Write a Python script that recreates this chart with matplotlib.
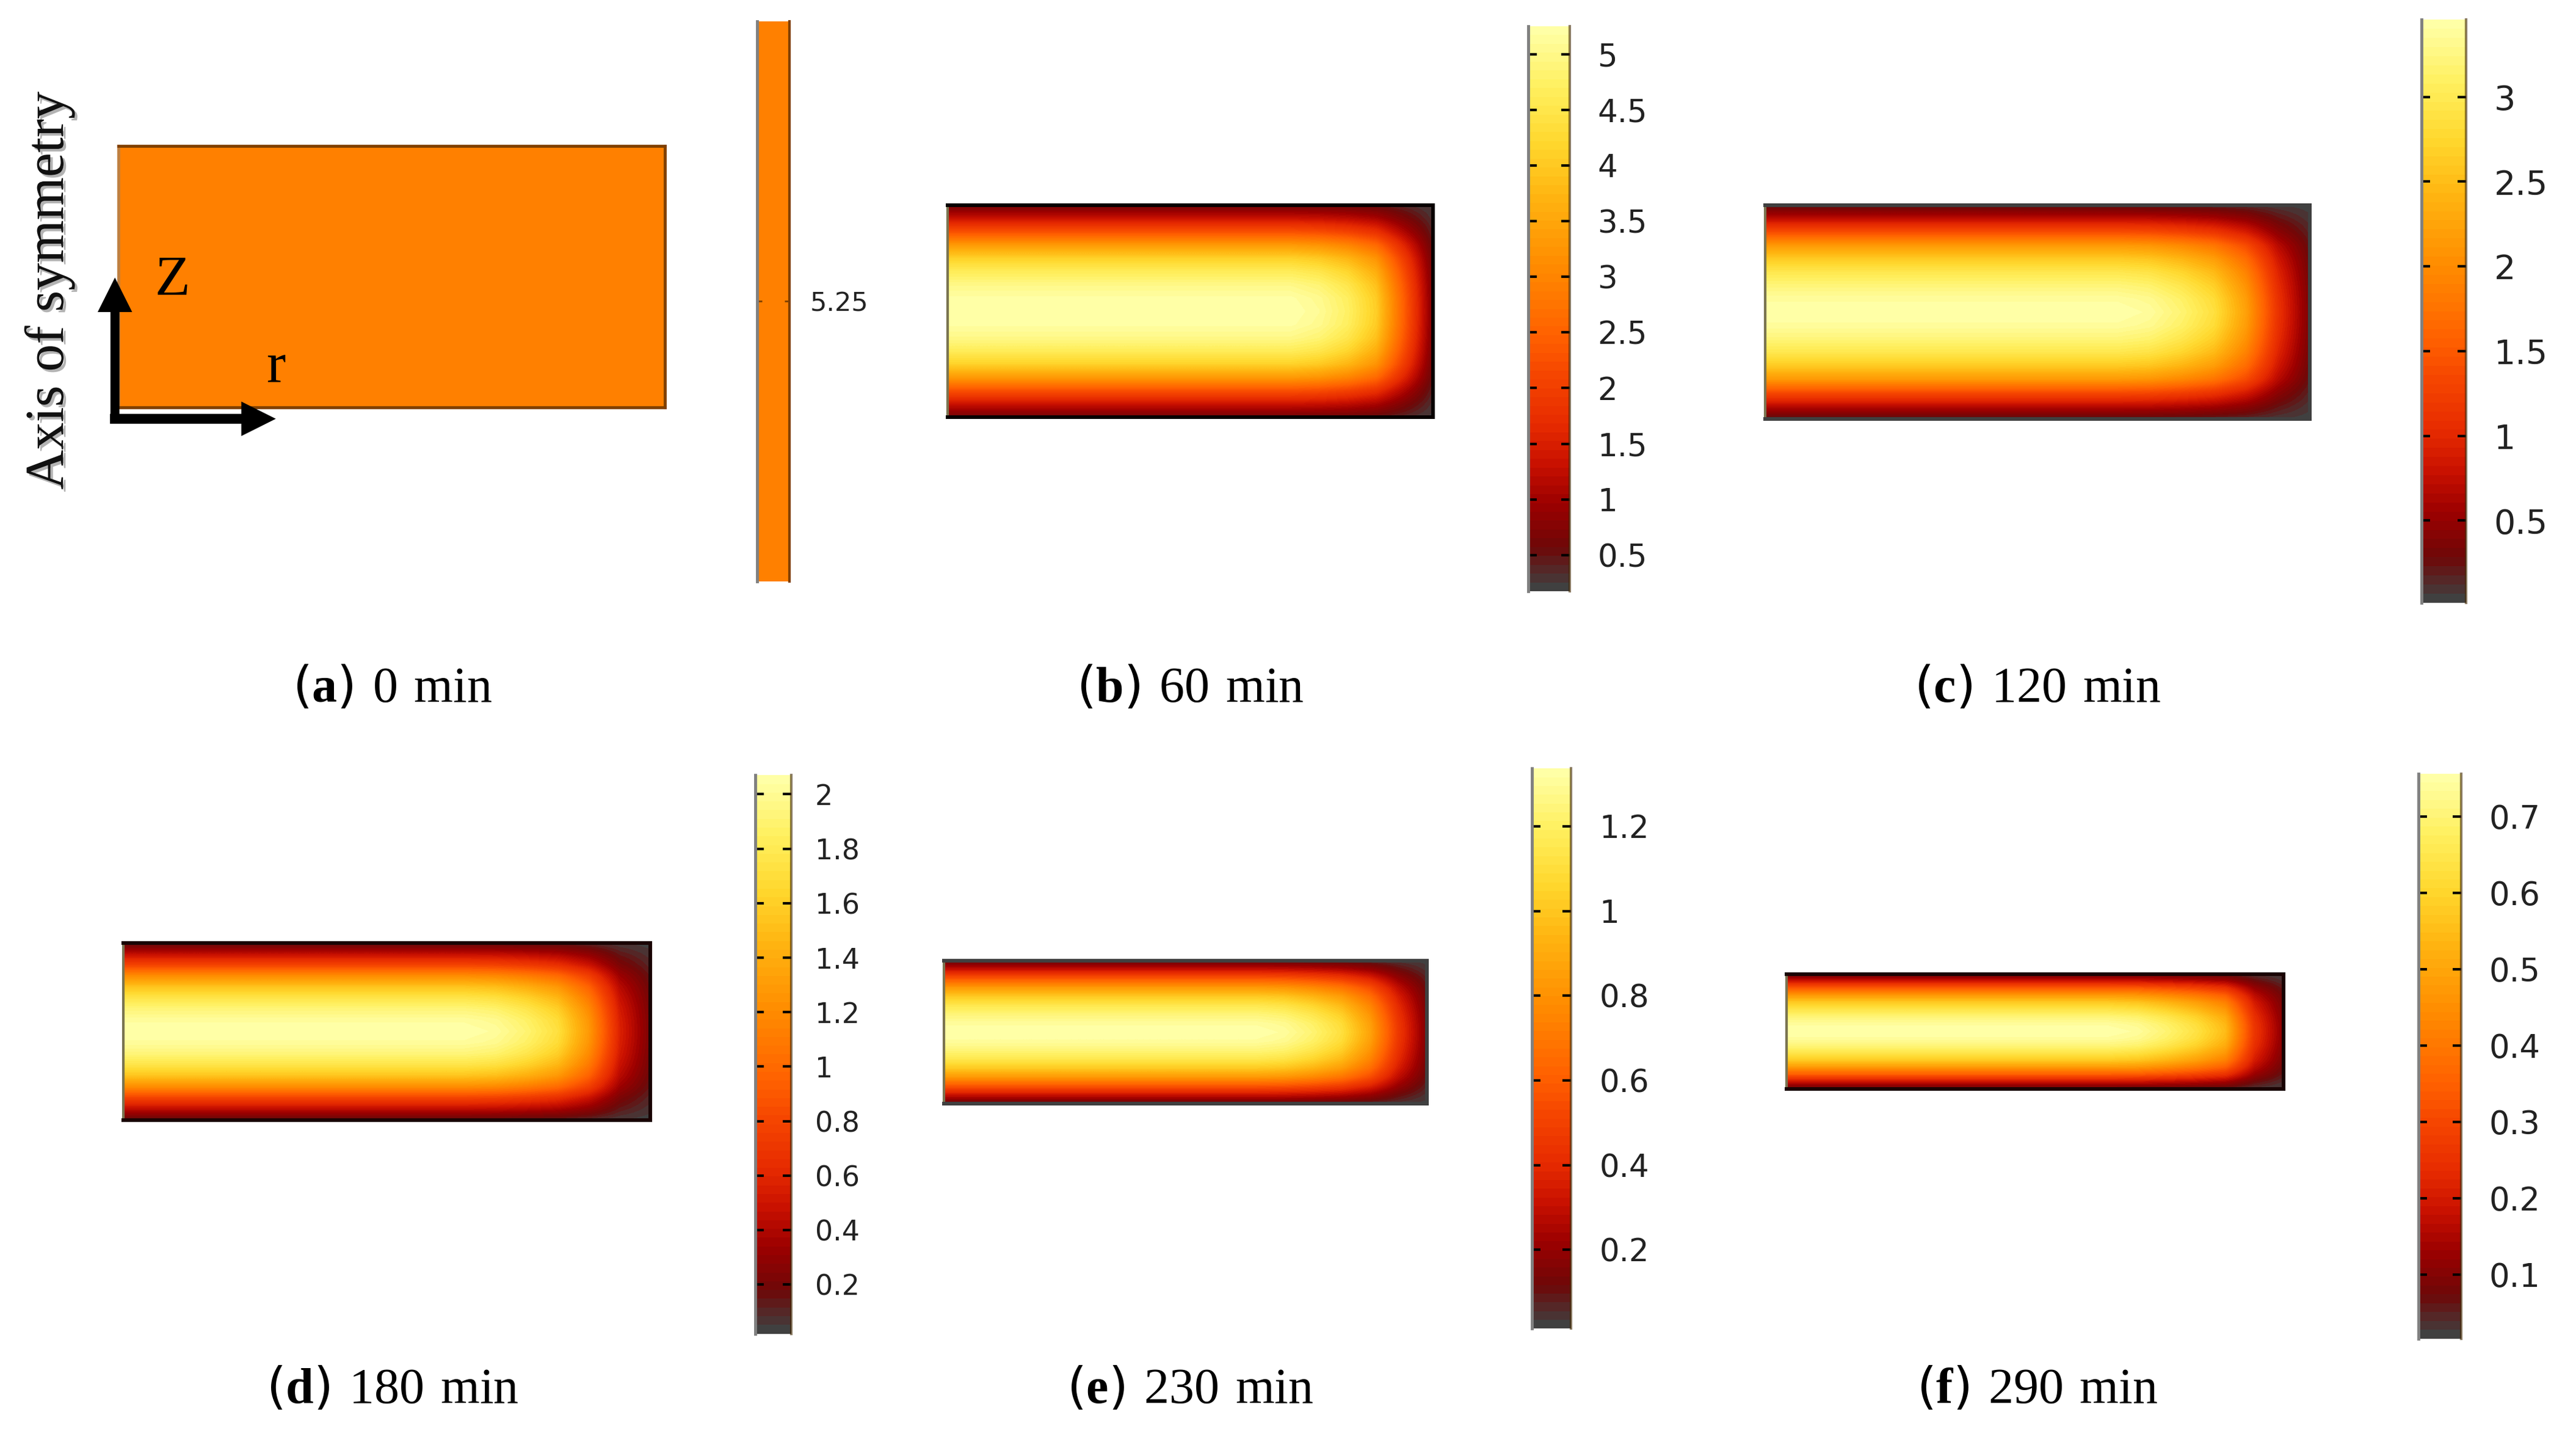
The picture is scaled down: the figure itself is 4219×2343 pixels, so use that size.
# Imports
from matplotlib import pyplot as plt
from matplotlib.cm import ScalarMappable
from matplotlib.colors import LinearSegmentedColormap, Normalize
from matplotlib.patches import FancyArrow
import matplotlib.patheffects as pe
import numpy as np

W, H = 4219, 2343
# size of the reference view the layout numbers were read from
REF_W, REF_H = 1569, 871.3

plt.rcParams['font.family'] = 'DejaVu Sans'
plt.rcParams['mathtext.fontset'] = 'custom'
plt.rcParams['mathtext.rm'] = 'Liberation Serif'
plt.rcParams['mathtext.bf'] = 'Liberation Serif:bold'
SERIF = 'Liberation Serif'

# Values
captions = ['a', 'b', 'c', 'd', 'e', 'f']
times = ['0 min', '60 min', '120 min', '180 min', '230 min', '290 min']
range_a = [5.2, 5.3]
ticks_a = [5.25]
ranges = {
    'b': (0.175, 5.25),
    'c': (0.015, 3.456),
    'd': (0.02, 2.07),
    'e': (0.014, 1.336),
    'f': (0.016, 0.756),
}
ticks_b = [0.5, 1, 1.5, 2, 2.5, 3, 3.5, 4, 4.5, 5]
ticks_c = [0.5, 1, 1.5, 2, 2.5, 3]
ticks_d = [0.2, 0.4, 0.6, 0.8, 1, 1.2, 1.4, 1.6, 1.8, 2]
ticks_e = [0.2, 0.4, 0.6, 0.8, 1, 1.2]
ticks_f = [0.1, 0.2, 0.3, 0.4, 0.5, 0.6, 0.7]

# Relative concentration across the height (bottom to top), read at even steps
z_b = [0.08, 0.23, 0.41, 0.62, 0.78, 0.88, 0.95, 0.99, 1.00, 0.99, 0.95, 0.88, 0.78, 0.62, 0.41, 0.23, 0.08]
z_c = [0.05, 0.21, 0.40, 0.62, 0.76, 0.86, 0.93, 0.98, 1.00, 0.98, 0.93, 0.86, 0.76, 0.62, 0.40, 0.21, 0.05]
z_d = [0.05, 0.21, 0.37, 0.58, 0.74, 0.85, 0.93, 0.98, 1.00, 0.98, 0.93, 0.85, 0.74, 0.58, 0.37, 0.21, 0.05]
z_e = [0.06, 0.23, 0.43, 0.62, 0.76, 0.86, 0.93, 0.98, 1.00, 0.98, 0.93, 0.86, 0.76, 0.62, 0.43, 0.23, 0.06]
z_f = [0.06, 0.23, 0.44, 0.62, 0.76, 0.85, 0.93, 0.98, 1.00, 0.98, 0.93, 0.85, 0.76, 0.62, 0.44, 0.23, 0.06]

# Relative concentration along the radius (axis to outer wall), read at even steps
r_b = [1.00, 1.00, 1.00, 1.00, 1.00, 1.00, 1.00, 1.00, 1.00, 1.00, 1.00, 1.00, 1.00, 0.97, 0.90, 0.77, 0.44, 0.10]
r_c = [1.00, 1.00, 1.00, 1.00, 1.00, 1.00, 1.00, 1.00, 1.00, 1.00, 1.00, 1.00, 0.98, 0.92, 0.83, 0.64, 0.32, 0.10]
r_d = [1.00, 1.00, 1.00, 1.00, 1.00, 1.00, 1.00, 1.00, 1.00, 1.00, 1.00, 1.00, 0.98, 0.92, 0.83, 0.62, 0.27, 0.10]
r_e = [1.00, 1.00, 1.00, 1.00, 1.00, 1.00, 1.00, 1.00, 1.00, 1.00, 1.00, 1.00, 0.98, 0.92, 0.83, 0.65, 0.34, 0.11]
r_f = [1.00, 1.00, 1.00, 1.00, 1.00, 1.00, 1.00, 1.00, 1.00, 1.00, 1.00, 1.00, 0.98, 0.92, 0.84, 0.72, 0.33, 0.12]

# Layout in reference pixels: left, right, top, bottom
map_boxes = {
    'a': (72, 405, 89, 248),
    'b': (577, 873, 125, 254),
    'c': (1075, 1407, 125, 255),
    'd': (75, 396, 574, 682),
    'e': (575, 869, 585, 672),
    'f': (1088, 1391, 593, 663),
}
bar_boxes = {
    'a': (461, 481, 13, 354),
    'b': (931, 956, 16, 360),
    'c': (1475, 1502, 12, 367),
    'd': (460, 482, 472, 812),
    'e': (933, 957, 468, 809),
    'f': (1473, 1499, 471, 815),
}
label_sizes = {'a': 31, 'b': 37, 'c': 40, 'd': 33, 'e': 37, 'f': 38}
label_pads = {'a': 24, 'b': 33, 'c': 33, 'd': 28, 'e': 33, 'f': 33}
caption_x = {'a': 239, 'b': 725, 'c': 1241, 'd': 239, 'e': 725, 'f': 1241}
caption_y = {'a': 419, 'b': 419, 'c': 419, 'd': 846, 'e': 846, 'f': 846}
spine_col = {'b': '#080000', 'c': '#404040', 'd': '#1a0404', 'e': '#404040', 'f': '#1a0404'}

heat = LinearSegmentedColormap.from_list('heat', [
    (0.0, '#404040'), (0.07, '#6e0808'), (0.15, '#9c0000'), (0.22, '#c81000'),
    (0.29, '#e62a00'), (0.38, '#f54500'), (0.45, '#ff6000'), (0.58, '#ff8c00'),
    (0.70, '#ffb410'), (0.80, '#ffd82e'), (0.90, '#fff060'), (1.0, '#ffffa6')], N=64)


def add_axes_px(box):
    """ Add axes from a box given in reference pixels """
    left, right, top, bottom = box
    return fig.add_axes([left / REF_W, 1 - bottom / REF_H, (right - left) / REF_W, (bottom - top) / REF_H])


def draw_bar(key, cmap, norm, ticks):
    """ Colorbar with inward ticks on both sides """
    cax = add_axes_px(bar_boxes[key])
    cb = fig.colorbar(ScalarMappable(norm=norm, cmap=cmap), cax=cax)
    cb.set_ticks(ticks, labels=[format(t, 'g') for t in ticks])
    cb.ax.minorticks_off()
    cax.tick_params(axis='y', which='major', direction='in', left=True, right=True,
                    length=10, width=3, color='black', labelsize=label_sizes[key],
                    labelcolor='#222222', pad=label_pads[key])
    cb.outline.set_visible(False)
    for side in ['left', 'right']:
        cax.spines[side].set_visible(True)
    cax.spines['left'].set_color('#808080')
    cax.spines['left'].set_linewidth(3.5)
    cax.spines['right'].set_color((0.25, 0.15, 0.0, 0.6))
    cax.spines['right'].set_linewidth(3)
    return cax


fig = plt.figure(figsize=(W / 100, H / 100), dpi=100, facecolor='white')

# Panel (a) is a uniform field
ax = add_axes_px(map_boxes['a'])
ax.set_facecolor('#ff8000')
ax.set_xticks([])
ax.set_yticks([])
for side, spine in ax.spines.items():
    spine.set_color('#804000' if side != 'left' else '#c08040')
    spine.set_linewidth(3.5)
flat = LinearSegmentedColormap.from_list('flat', ['#ff8000', '#ff8000'])
cax_a = draw_bar('a', flat, Normalize(range_a[0], range_a[1]), ticks_a)
cax_a.tick_params(axis='y', length=6, width=2, color='#804000')
cax_a.spines['right'].set_color('#804000')

profiles = {'b': (z_b, r_b, ticks_b), 'c': (z_c, r_c, ticks_c), 'd': (z_d, r_d, ticks_d),
            'e': (z_e, r_e, ticks_e), 'f': (z_f, r_f, ticks_f)}

for key, (z_vals, r_vals, ticks) in profiles.items():
    vmin, vmax = ranges[key]
    norm = Normalize(vmin, vmax)
    field = vmin + (vmax - vmin) * np.outer(z_vals, r_vals)
    ax = add_axes_px(map_boxes[key])
    ax.imshow(field, cmap=heat, norm=norm, origin='lower', aspect='auto', interpolation='bilinear')
    # crop to the outermost nodes so the wall values sit on the border
    ax.set_xlim(0, len(r_vals) - 1)
    ax.set_ylim(0, len(z_vals) - 1)
    ax.set_xticks([])
    ax.set_yticks([])
    for spine in ax.spines.values():
        spine.set_color(spine_col[key])
        spine.set_linewidth(4.3)
    ax.spines['left'].set_color('#7a7450')
    ax.spines['left'].set_linewidth(3)
    draw_bar(key, heat, norm, ticks)
    if key == 'e':
        ax.spines['right'].set_linestyle((0, (3, 1)))

# Overlay for captions and the coordinate arrows
over = fig.add_axes([0, 0, 1, 1], facecolor='none')
over.set_xlim(0, REF_W)
over.set_ylim(REF_H, 0)
over.axis('off')

for key, t in zip(captions, times):
    over.text(caption_x[key], caption_y[key], r'($\mathbf{' + key + r'}$) $\mathrm{' + t.replace(' ', r'\ ') + '}$',
              ha='center', va='center', fontsize=59, color='black')

over.text(30, 177, 'Axis of symmetry', rotation=90, ha='center', va='center',
          family=SERIF, fontsize=65, color='#111111',
          path_effects=[pe.withSimplePatchShadow(offset=(3, -3), alpha=0.3)])
over.text(105, 171, 'Z', ha='center', va='center', family=SERIF, fontsize=68)
over.text(168, 224, 'r', ha='center', va='center', family=SERIF, fontsize=68)
over.add_patch(FancyArrow(70, 256, 0, -87, width=5.5, head_width=21, head_length=21,
                          length_includes_head=True, color='black', lw=0))
over.add_patch(FancyArrow(67, 255, 101, 0, width=6, head_width=21, head_length=21,
                          length_includes_head=True, color='black', lw=0))

plt.savefig('out.png', dpi=100)
